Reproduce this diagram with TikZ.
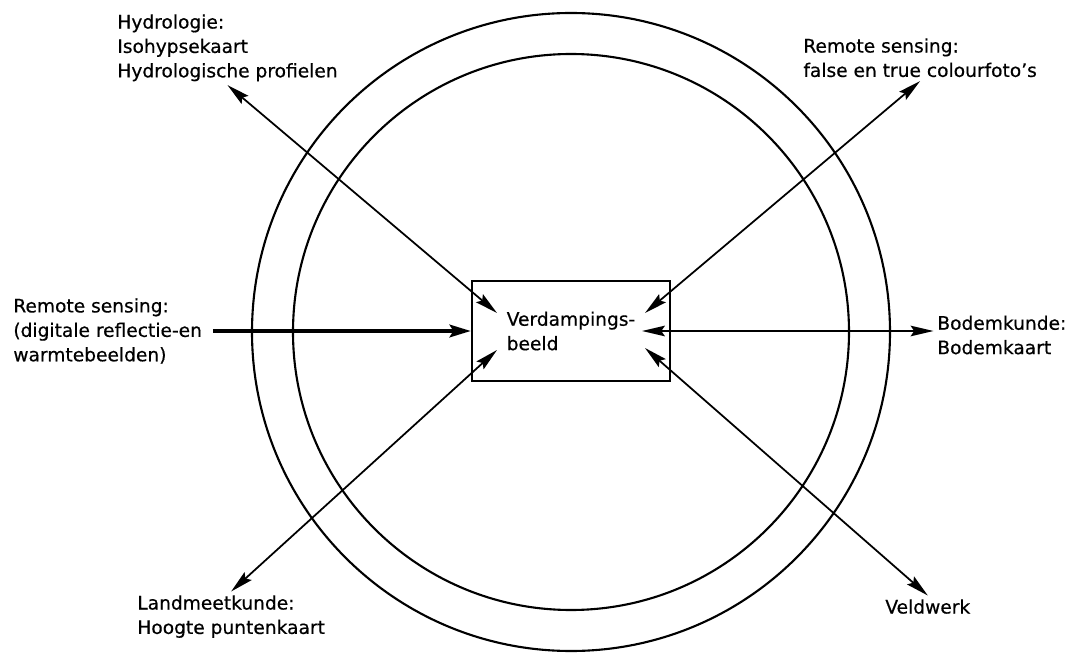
\documentclass[tikz,border=0pt]{standalone}
\usepackage{fontspec}
\setmainfont{DejaVu Sans}[BoldFont={DejaVu Sans}, BoldFeatures={FakeBold=0.5}]
\usetikzlibrary{arrows.meta}
\usetikzlibrary{positioning}
\tikzset{
    ring/.style={line width=1.2pt},
    info/.style={align=left, inner sep=2pt, font=\fontsize{10.6}{13.9}\selectfont\bfseries},
    link/.style={line width=1pt},
}

\begin{document}
\begin{tikzpicture}[x=0.02cm, y=-0.02cm, >={Stealth[length=13pt,width=6pt,inset=2pt]}]
            \useasboundingbox (0,0) rectangle (1079,655);

            % Rings
            \draw[ring] (571,332) circle (319);
            \draw[ring] (571,332) circle (278);

            % Centre box
            \node[draw, line width=1.2pt, minimum width=3.96cm, minimum height=2cm, info] (beeld) at (571,331) {Verdampings-\\beeld};

            % Sources
            \node[info, anchor=north west] (hydro) at (113.5,10.5) {Hydrologie:\\Isohypsekaart\\Hydrologische profielen};
            \node[info, anchor=north west] (rsfoto) at (799.5,34.5) {Remote sensing:\\false en true colourfoto’s};
            \node[info, anchor=west] (rsdigi) at (9.5,331) {Remote sensing:\\(digitale reflectie-en\\warmtebeelden)};
            \node[info, anchor=west] (bodem) at (933.5,335) {Bodemkunde:\\Bodemkaart};
            \node[info, anchor=north west] (land) at (133.5,591.5) {Landmeetkunde:\\Hoogte puntenkaart};
            \node[info, anchor=north west] (veld) at (881.5,595.5) {Veldwerk};

            % Arrow ends inside the box
            \coordinate (inNW) at (497,313);
            \coordinate (inNE) at (645,313);
            \coordinate (inSW) at (497,350);
            \coordinate (inSE) at (645,348);
            \coordinate (inE) at (642,331);

            % Relationships
            \draw[link, <->] (hydro.south) -- (inNW);
            \draw[link, <->] (rsfoto.south) -- (inNE);
            \draw[link, <->] (land.north) -- (inSW);
            \draw[link, <->] (veld.north) -- (inSE);
            \draw[link, <->] (inE) -- (inE -| bodem.west);
            \draw[line width=2.4pt, -{Stealth[length=12pt,width=7pt,inset=2pt]}, shorten <=4pt] (rsdigi.east) -- (rsdigi.east -| beeld.west);

        \end{tikzpicture}
\end{document}
